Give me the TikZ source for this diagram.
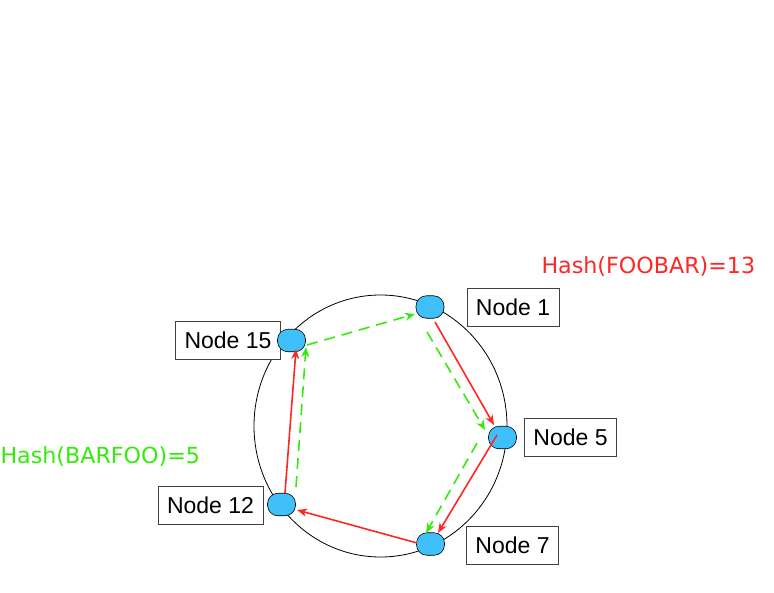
\documentclass[tikz,border=0pt]{standalone}
\usepackage{fontspec}
\setmainfont{Liberation Sans}
\newfontfamily\hashfont{DejaVu Sans}
\usetikzlibrary{arrows.meta,calc}
\definecolor{ringblue}{RGB}{64,192,250}
\definecolor{hopred}{RGB}{255,38,38}
\definecolor{hopgreen}{RGB}{52,235,12}

\begin{document}
\begin{tikzpicture}[x=1pt, y=-1pt,
  every node/.style={font=\fontsize{23}{27}\selectfont},
  peer/.style={draw, line width=0.6pt, fill=ringblue, rounded corners=10.5pt,
               minimum width=28pt, minimum height=22.5pt, inner sep=0pt},
  namebox/.style={draw=black!75, fill=white, line width=0.8pt,
                  minimum height=38pt, inner xsep=9pt},
  hashlabel/.style={font=\hashfont\fontsize{22.2}{26}\selectfont, anchor=base west},
  redhop/.style={hopred, line width=1.6pt,
                 -{Stealth[length=10pt,width=8pt,inset=3pt]}},
  greenhop/.style={hopgreen, line width=1.6pt, dash pattern=on 11pt off 7pt,
                   -{Stealth[length=10pt,width=8pt,inset=3pt]}}
]
  \useasboundingbox (0,0) rectangle (774,592);

  % --- Ring ---
  \draw[line width=0.8pt] (380.5,426) ellipse [x radius=126.5, y radius=131];

  % --- Name boxes ---
  \node[namebox] (b1)  at (513,307)   {Node 1};
  \node[namebox] (b5)  at (570.5,437.5) {Node 5};
  \node[namebox] (b7)  at (512.5,545) {Node 7};
  \node[namebox] (b12) at (210.5,505) {Node 12};
  \node[namebox] (b15) at (228,340.5) {Node 15};

  % --- Peers on the ring ---
  \node[peer] (n1)  at (430,307)     {};
  \node[peer] (n5)  at (502.5,437.5) {};
  \node[peer] (n7)  at (430.5,544)   {};
  \node[peer] (n12) at (281.5,504.5) {};
  \node[peer] (n15) at (291.5,340.5) {};

  % --- Hash labels ---
  \node[hashlabel, text=hopred]   (hfoo) at (538,273) {Hash(FOOBAR)=13};
  \node[hashlabel, text=hopgreen] (hbar) at (-3,463)  {Hash(BARFOO)=5};

  % --- Red hops ---
  \draw[redhop] ($(n1)+(5,15)$)      -- ($(n5)+(-8.5,-12.5)$);
  \draw[redhop] ($(n5)+(-5.5,-2.5)$) -- ($(n7)+(7.5,-11)$);
  \draw[redhop] ($(n7)+(-13.5,-1)$)  -- ($(n12)+(15.5,5.5)$);
  \draw[redhop] ($(n12)+(3.5,-11.5)$) -- ($(n15)+(4.5,8.5)$);

  % --- Green hops ---
  \draw[greenhop] ($(n15)+(15.5,4.5)$) -- ($(n1)+(-15,7)$);
  \draw[greenhop] ($(n1)+(-3,25)$)     -- ($(n5)+(-17.5,-7.5)$);
  \draw[greenhop] ($(n5)+(-25.5,5.5)$) -- ($(n7)+(-4.5,-11)$);
  \draw[greenhop] ($(n12)+(14.5,-17.5)$) -- ($(n15)+(14.5,6.5)$);

\end{tikzpicture}
\end{document}
